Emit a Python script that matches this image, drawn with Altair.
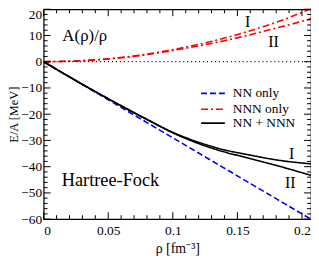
import altair as alt
import pandas as pd

# ---- data ----
rho = [0, 0.02, 0.04, 0.06, 0.08, 0.10, 0.12, 0.14, 0.16, 0.18, 0.20, 0.207]
nn_only = [0, -5.8, -11.6, -17.4, -23.2, -29.0, -34.8, -40.6, -46.4, -52.2, -58.0, -60.0]
nnn_I = [0, 0.2, 0.7, 1.6, 2.9, 4.6, 6.6, 9.0, 11.8, 15.0, 18.8, 20.2]
nnn_II = [0, 0.2, 0.7, 1.5, 2.7, 4.3, 6.0, 8.0, 10.3, 12.8, 15.4, 16.4]
tot_I = [0, -5.8, -11.4, -16.8, -22.0, -26.9, -30.7, -33.6, -35.6, -37.4, -38.6, -38.9]
tot_II = [0, -5.8, -11.4, -16.8, -22.0, -27.1, -31.2, -34.4, -36.9, -39.5, -42.3, -43.3]

series_names = ["NN only", "NNN only", "NN + NNN"]
series_colors = ["#0000ff", "#ff0000", "#000000"]
series_dashes = [[6, 3], [7, 3, 2, 3], [1, 0]]

x_major = [0, 0.05, 0.1, 0.15, 0.2]
x_minor = [0.01, 0.02, 0.03, 0.04, 0.06, 0.07, 0.08, 0.09, 0.11, 0.12, 0.13, 0.14,
           0.16, 0.17, 0.18, 0.19]
y_major = [-60, -50, -40, -30, -20, -10, 0, 10, 20]
y_minor = [v for v in range(-58, 20, 2) if v % 10 != 0]

# annotations
annot_text = ["I", "II", "I", "II", "A(ρ)/ρ", "Hartree-Fock"]
annot_x = [0.158, 0.178, 0.192, 0.191, 0.0145, 0.014]
annot_y = [15.2, 7.4, -35.1, -46.2, 9.6, -45.1]

W, H = 270, 212
FONT = "Liberation Serif"

rows = []
for name, var, vals in [("NN only", "A", nn_only), ("NNN only", "I", nnn_I),
                        ("NNN only", "II", nnn_II), ("NN + NNN", "I", tot_I),
                        ("NN + NNN", "II", tot_II)]:
    for r, v in zip(rho, vals):
        rows.append({"rho": r, "E": v, "series": name, "var": var})
df = pd.DataFrame(rows)

xs = alt.Scale(domain=[0, 0.207], nice=False, zero=False)
ys = alt.Scale(domain=[-60, 20], nice=False, zero=False)

XAXIS = alt.Axis(values=x_major, format=".2~f", ticks=False, domain=False,
                 grid=False, labelFont=FONT, labelFontSize=13.5, labelColor="black",
                 labelPadding=4, title="ρ [fm⁻³]", titleFont=FONT,
                 titleFontSize=14, titleFontWeight="normal", titleColor="black",
                 titlePadding=5)
YAXIS = alt.Axis(values=y_major, ticks=False, domain=False, grid=False,
                 labelFont=FONT, labelFontSize=13.5, labelColor="black",
                 labelPadding=2,
                 labelOffset={"condition": {"test": "datum.value === 20", "value": 5},
                              "value": 0},
                 title="E/A [MeV]", titleFont=FONT,
                 titleFontSize=12.5, titleFontWeight="normal", titleColor="black",
                 titlePadding=0)

def X(f):
    return alt.X(f, scale=xs, axis=XAXIS)

def Y(f):
    return alt.Y(f, scale=ys, axis=YAXIS)

lines = alt.Chart(df).mark_line(strokeWidth=1.6, clip=True, interpolate="monotone").encode(
    x=X("rho:Q"),
    y=Y("E:Q"),
    color=alt.Color("series:N", scale=alt.Scale(domain=series_names, range=series_colors),
                    legend=None),
    strokeDash=alt.StrokeDash("series:N",
                              scale=alt.Scale(domain=series_names, range=series_dashes),
                              legend=None),
    detail="var:N",
)

zero = alt.Chart(pd.DataFrame({"y": [0]})).mark_rule(
    color="black", strokeDash=[1, 3], strokeWidth=1.2).encode(y=Y("y:Q"))

xmaj = pd.DataFrame({"v": x_major})
xmin = pd.DataFrame({"v": x_minor})
ymaj = pd.DataFrame({"v": y_major})
ymin = pd.DataFrame({"v": y_minor})

def xticks(d, L):
    b = alt.Chart(d).mark_rule(color="black", strokeWidth=1)
    return (b.encode(x=X("v:Q"), y=alt.value(H), y2=alt.value(H - L)) +
            b.encode(x=X("v:Q"), y=alt.value(0), y2=alt.value(L)))

def yticks(d, L):
    b = alt.Chart(d).mark_rule(color="black", strokeWidth=1)
    return (b.encode(y=Y("v:Q"), x=alt.value(0), x2=alt.value(L)) +
            b.encode(y=Y("v:Q"), x=alt.value(W), x2=alt.value(W - L)))

ticks = xticks(xmaj, 7) + xticks(xmin, 4) + yticks(ymaj, 7) + yticks(ymin, 4)

ann_df = pd.DataFrame({"t": annot_text, "x": annot_x, "y": annot_y})
ann_c = alt.Chart(ann_df[ann_df.t.isin(["I", "II"])]).mark_text(
    font=FONT, align="center", baseline="middle", color="black", fontSize=16).encode(
    x=X("x:Q"), y=Y("y:Q"), text="t:N")
ann_l1 = alt.Chart(ann_df[ann_df.t == "A(ρ)/ρ"]).mark_text(
    font=FONT, align="left", baseline="middle", color="black", fontSize=17).encode(
    x=X("x:Q"), y=Y("y:Q"), text="t:N")
ann_l2 = alt.Chart(ann_df[ann_df.t == "Hartree-Fock"]).mark_text(
    font=FONT, align="left", baseline="middle", color="black", fontSize=18.5).encode(
    x=X("x:Q"), y=Y("y:Q"), text="t:N")

# manual legend
leg = None
leg_y = [85, 101, 115]
for name, col, dash, yy in zip(series_names, series_colors, series_dashes, leg_y):
    d = pd.DataFrame({"t": [name]})
    r = alt.Chart(d).mark_rule(color=col, strokeDash=dash, strokeWidth=1.6).encode(
        x=alt.value(159), x2=alt.value(183), y=alt.value(yy))
    t = alt.Chart(d).mark_text(font=FONT, fontSize=13.5, align="left", baseline="middle",
                               color="black").encode(
        x=alt.value(191), y=alt.value(yy), text="t:N")
    leg = (r + t) if leg is None else (leg + r + t)

chart = alt.layer(lines, zero, ticks, ann_c, ann_l1, ann_l2, leg).properties(
    width=W, height=H,
    autosize=alt.AutoSizeParams(type="none"),
    padding={"left": 36, "top": 0, "right": 0, "bottom": 40},
).configure(font=FONT).configure_axis(
    labelFont=FONT, titleFont=FONT
).configure_text(font=FONT).configure_view(stroke="black", strokeWidth=1.2)

chart.save("out.html", embed_options={"renderer": "svg", "actions": False})
